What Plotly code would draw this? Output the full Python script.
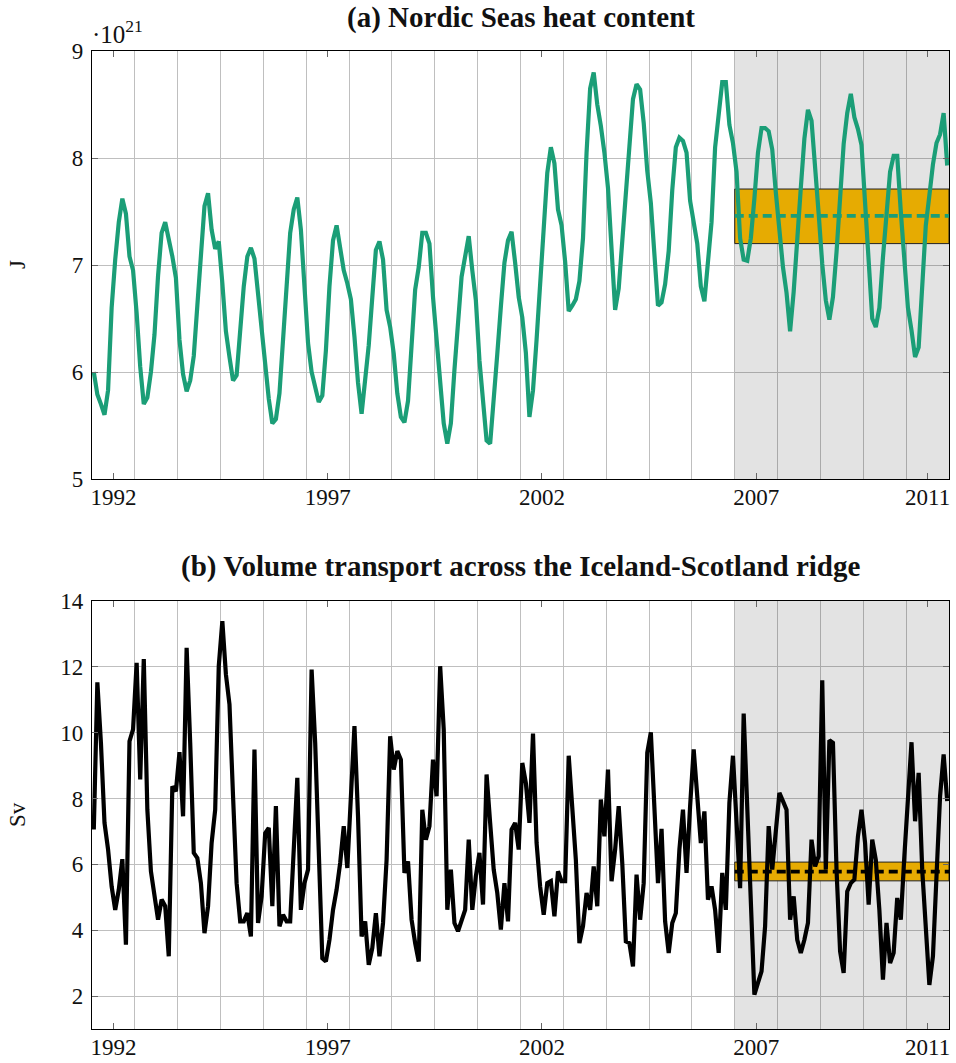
import numpy as np
import plotly.graph_objects as go

# Monthly series, first sample half a month after mid-1991
start_year = 1991.5
n_months = 240

# Nordic Seas heat content, units of 1e21 J
heat_content = [
    6.00, 5.79, 5.70, 5.60, 5.83, 6.60, 7.05, 7.40, 7.62, 7.48, 7.08, 6.95,
    6.55, 6.05, 5.70, 5.76, 6.00, 6.35, 6.90, 7.30, 7.40, 7.25, 7.08, 6.88,
    6.30, 5.98, 5.82, 5.92, 6.15, 6.62, 7.12, 7.55, 7.67, 7.33, 7.15, 7.22,
    6.83, 6.38, 6.14, 5.92, 5.97, 6.40, 6.80, 7.08, 7.16, 7.06, 6.72, 6.35,
    6.03, 5.75, 5.52, 5.56, 5.80, 6.33, 6.89, 7.30, 7.52, 7.63, 7.33, 6.78,
    6.27, 6.00, 5.87, 5.72, 5.78, 6.20, 6.80, 7.23, 7.37, 7.18, 6.95, 6.83,
    6.68, 6.33, 5.90, 5.61, 5.90, 6.25, 6.70, 7.14, 7.22, 7.05, 6.58, 6.42,
    6.17, 5.80, 5.58, 5.53, 5.73, 6.27, 6.77, 6.98, 7.30, 7.30, 7.20, 6.70,
    6.27, 5.83, 5.52, 5.33, 5.52, 6.02, 6.45, 6.89, 7.08, 7.27, 6.95, 6.67,
    6.11, 5.77, 5.36, 5.33, 5.70, 6.17, 6.61, 7.02, 7.23, 7.31, 7.02, 6.70,
    6.51, 6.18, 5.58, 5.83, 6.30, 6.80, 7.36, 7.86, 8.10, 7.95, 7.52, 7.37,
    7.03, 6.57, 6.62, 6.68, 6.85, 7.25, 8.05, 8.65, 8.80, 8.50, 8.30, 8.05,
    7.72, 7.22, 6.58, 6.78, 7.22, 7.70, 8.12, 8.55, 8.69, 8.64, 8.33, 7.88,
    7.58, 7.15, 6.62, 6.65, 6.82, 7.13, 7.70, 8.10, 8.19, 8.16, 8.05, 7.60,
    7.40, 7.20, 6.80, 6.66, 7.03, 7.40, 8.10, 8.43, 8.71, 8.71, 8.31, 8.14,
    7.87, 7.25, 7.05, 7.04, 7.25, 7.62, 8.05, 8.28, 8.28, 8.25, 8.08, 7.68,
    7.30, 6.98, 6.74, 6.38, 6.75, 7.18, 7.72, 8.18, 8.45, 8.35, 7.95, 7.48,
    7.01, 6.67, 6.49, 6.70, 7.12, 7.66, 8.13, 8.42, 8.60, 8.38, 8.27, 8.12,
    7.55, 6.95, 6.50, 6.42, 6.60, 7.07, 7.52, 7.87, 8.02, 8.02, 7.50, 6.98,
    6.60, 6.39, 6.14, 6.23, 6.75, 7.37, 7.65, 7.94, 8.14, 8.22, 8.42, 7.93,
]

# Volume transport across the Iceland-Scotland ridge, Sv
transport = [
    7.06, 11.53, 9.69, 7.26, 6.45, 5.33, 4.62, 5.23, 6.16, 3.56, 9.74, 10.10,
    12.12, 8.58, 12.24, 7.66, 5.79, 5.03, 4.32, 4.93, 4.73, 3.21, 8.37, 8.22,
    9.41, 7.46, 12.58, 9.69, 6.35, 6.19, 5.43, 3.91, 4.73, 6.65, 7.66, 12.02,
    13.39, 11.77, 10.86, 8.07, 5.43, 4.27, 4.27, 4.52, 3.81, 9.49, 4.22, 5.03,
    6.95, 7.11, 4.73, 7.77, 4.12, 4.47, 4.27, 4.27, 6.45, 8.63, 4.62, 5.43,
    5.84, 11.92, 9.69, 6.45, 3.15, 3.05, 3.71, 4.62, 5.23, 6.04, 7.16, 5.89,
    8.07, 10.20, 7.46, 3.81, 4.27, 2.95, 3.46, 4.52, 3.21, 4.22, 6.14, 9.89,
    8.88, 9.44, 9.18, 5.74, 6.09, 4.32, 3.61, 3.05, 7.66, 6.75, 7.16, 9.18,
    8.07, 12.02, 10.10, 4.62, 5.84, 4.22, 3.97, 4.27, 4.62, 6.75, 4.62, 5.64,
    6.35, 4.78, 8.73, 7.26, 5.84, 5.13, 4.02, 5.43, 4.27, 7.06, 7.26, 6.45,
    9.08, 8.47, 7.26, 9.97, 6.65, 5.33, 4.47, 5.43, 5.49, 4.42, 5.79, 5.49,
    5.49, 9.30, 7.87, 6.14, 3.61, 4.12, 5.13, 4.62, 5.94, 4.73, 7.97, 6.85,
    8.88, 5.49, 6.45, 7.77, 6.04, 3.66, 3.61, 2.90, 5.69, 4.32, 5.43, 9.39,
    10.01, 7.66, 5.43, 7.08, 4.27, 3.31, 4.22, 4.52, 6.45, 7.66, 5.74, 7.77,
    9.49, 8.07, 6.65, 7.61, 4.93, 5.33, 4.62, 3.31, 5.74, 4.62, 7.87, 9.30,
    7.46, 5.28, 10.58, 7.66, 4.83, 2.04, 2.40, 2.75, 4.12, 7.16, 5.84, 7.06,
    8.17, 7.92, 7.66, 4.32, 5.03, 3.71, 3.31, 3.71, 4.22, 6.75, 5.94, 6.25,
    11.59, 5.84, 9.77, 9.69, 5.84, 3.36, 2.70, 5.18, 5.43, 5.54, 6.85, 7.66,
    6.65, 4.78, 6.75, 6.14, 4.62, 2.50, 4.22, 3.00, 3.31, 4.98, 4.32, 6.25,
    8.07, 9.71, 7.31, 8.78, 5.84, 4.02, 2.34, 3.21, 5.33, 8.07, 9.34, 7.92,
]

# Reference period statistics (mean and band limits)
period_start, period_end = 2006.5, 2011.5
heat_mean, heat_low, heat_high = 7.46, 7.20, 7.71
transport_mean, transport_low, transport_high = 5.78, 5.50, 6.07

year_range = [1991.5, 2011.5]
heat_range = [5, 9]
transport_range = [1, 14]
year_ticks = [1992, 1997, 2002, 2007, 2011]
heat_ticks = [5, 6, 7, 8, 9]
transport_ticks = [2, 4, 6, 8, 10, 12, 14]

time = start_year + (np.arange(n_months) + 0.5) / 12.0

GREEN = "#1b9e77"
ORANGE = "#e6ab02"
GRID = "#bfbfbf"
FONT = "Liberation Serif"

W, H = 956, 1063
fig = go.Figure()


def panel(xa, ya, yrange, series, color, low, high, mean):
    # translucent grey over the reference period (gridlines show through)
    fig.add_trace(go.Scatter(
        x=[period_start, period_end, period_end, period_start, period_start],
        y=[yrange[0], yrange[0], yrange[1], yrange[1], yrange[0]],
        xaxis=xa, yaxis=ya, mode="lines", fill="toself",
        fillcolor="rgba(0,0,0,0.11)", line=dict(width=0), hoverinfo="skip"))
    # spread band around the period mean
    fig.add_trace(go.Scatter(
        x=[period_start, period_end, period_end, period_start, period_start],
        y=[low, low, high, high, low], xaxis=xa, yaxis=ya,
        mode="lines", fill="toself", fillcolor=ORANGE,
        line=dict(color="#222", width=1), hoverinfo="skip"))
    fig.add_trace(go.Scatter(x=time, y=series, xaxis=xa, yaxis=ya, mode="lines",
                             line=dict(color=color, width=4.2)))
    fig.add_trace(go.Scatter(x=[period_start, period_end], y=[mean, mean],
                             xaxis=xa, yaxis=ya, mode="lines",
                             line=dict(color=color, width=3.8, dash="9px,5px")))


panel("x", "y", heat_range, heat_content, GREEN, heat_low, heat_high, heat_mean)
panel("x2", "y2", transport_range, transport, "black",
      transport_low, transport_high, transport_mean)

xdom = [92 / W, 949 / W]
top_dom = [1 - 479 / H, 1 - 51 / H]
bot_dom = [1 - 1029 / H, 1 - 601 / H]

tickfont = dict(family=FONT, size=23, color="#111")
common_x = dict(range=year_range, tickvals=year_ticks,
                ticktext=[str(y) for y in year_ticks], ticks="inside", ticklen=6,
                tickcolor="#666", tickwidth=1, showline=True, linecolor="black",
                linewidth=1.3, mirror="ticks", showgrid=False, zeroline=False,
                tickfont=tickfont, ticklabelstandoff=-3, automargin=False,
                minor=dict(tick0=1992.5, dtick=1, showgrid=True, gridcolor=GRID,
                           gridwidth=1, ticks=""),
                domain=xdom)
common_y = dict(ticks="inside", ticklen=6, tickcolor="#666", tickwidth=1,
                showline=True, linecolor="black", linewidth=1.3, mirror="ticks",
                showgrid=True, gridcolor=GRID, gridwidth=1, zeroline=False,
                tickfont=tickfont, ticklabelstandoff=3, automargin=False)

fig.update_layout(
    width=W, height=H, margin=dict(l=0, r=0, t=0, b=0, autoexpand=False),
    paper_bgcolor="white", plot_bgcolor="white", showlegend=False,
    xaxis=dict(anchor="y", **common_x),
    xaxis2=dict(anchor="y2", **common_x),
    yaxis=dict(anchor="x", domain=top_dom, range=heat_range, tickvals=heat_ticks,
               **common_y),
    yaxis2=dict(anchor="x2", domain=bot_dom, range=transport_range,
                tickvals=transport_ticks, **common_y),
)

title_font = dict(family=FONT, size=29, color="#111")
label_font = dict(family=FONT, size=23, color="#111")
fig.add_annotation(text="<b>(a) Nordic Seas heat content</b>", xref="paper", yref="paper",
                   x=(xdom[0] + xdom[1]) / 2, y=1 - 18 / H, xanchor="center",
                   yanchor="middle", showarrow=False, font=title_font)
fig.add_annotation(text="<b>(b) Volume transport across the Iceland-Scotland ridge</b>",
                   xref="paper", yref="paper", x=(xdom[0] + xdom[1]) / 2,
                   y=1 - 566 / H, xanchor="center", yanchor="middle",
                   showarrow=False, font=title_font)
fig.add_annotation(text="·10<sup>21</sup>", xref="paper", yref="paper", x=90 / W,
                   y=1 - 50 / H, xanchor="left", yanchor="bottom", showarrow=False,
                   font=dict(family=FONT, size=25, color="#111"))
fig.add_annotation(text="J", xref="paper", yref="paper", x=17 / W, y=1 - 265 / H,
                   textangle=-90, xanchor="center", yanchor="middle",
                   showarrow=False, font=label_font)
fig.add_annotation(text="Sv", xref="paper", yref="paper", x=17 / W, y=1 - 815 / H,
                   textangle=-90, xanchor="center", yanchor="middle",
                   showarrow=False, font=label_font)

fig.write_html("out.html")
